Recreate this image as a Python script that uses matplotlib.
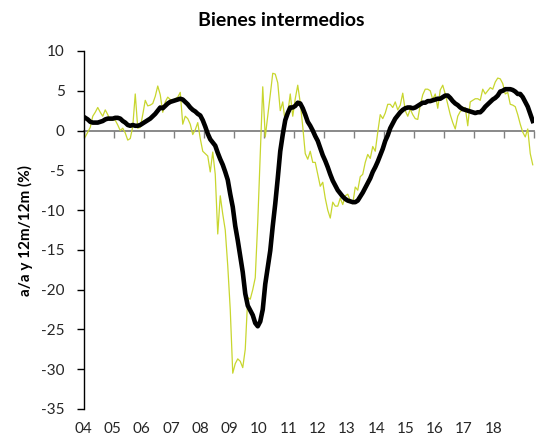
import matplotlib
matplotlib.use("Agg")
import matplotlib.pyplot as plt
import matplotlib.transforms as mtransforms
import numpy as np

plt.rcParams['font.family'] = ['Lato', 'DejaVu Sans']

# monthly values, Jan 2004 .. Dec 2018
yoy = [
    -0.8, -0.2, 0.4, 1.8, 2.3, 2.9, 2.3, 1.8, 2.6, 2.0, 1.3, 1.4,          # 2004
    1.3, 0.7, 0.0, 0.3, -0.3, -1.2, -1.0, 0.5, 4.6, 0.3, 0.4, 2.0,         # 2005
    3.8, 3.1, 3.2, 3.4, 4.3, 5.6, 4.5, 2.3, 3.6, 4.2, 3.9, 3.8,            # 2006
    4.0, 4.2, 4.8, 0.8, 1.8, 1.5, 0.8, -0.5, 0.1, 1.0, -1.0, -2.6,         # 2007
    -2.9, -3.2, -5.2, -2.7, -5.5, -13.0, -8.2, -10.5, -12.5, -17.0, -22.5, -30.5,  # 2008
    -29.3, -28.7, -29.0, -29.8, -27.5, -21.0, -21.2, -20.0, -18.5, -11.5, -3.0, 5.5,  # 2009
    -0.8, 1.8, 4.5, 7.2, 7.1, 6.0, 2.5, 3.6, 1.0, 2.2, 4.6, 1.8,           # 2010
    4.0, 5.7, 3.5, 0.5, -2.9, -3.6, -2.6, -4.0, -4.0, -5.5, -7.0, -6.5,    # 2011
    -8.5, -10.0, -11.0, -9.0, -9.5, -9.5, -8.5, -9.3, -8.2, -8.0, -8.8, -9.2,  # 2012
    -7.1, -7.5, -5.8, -5.5, -4.0, -3.0, -3.5, -2.0, -2.6, -0.2, 2.0, 1.5,  # 2013
    2.2, 3.3, 3.3, 2.9, 3.6, 2.6, 3.2, 4.7, 2.5, 1.8, 2.7, 2.0,            # 2014
    1.5, 1.4, 3.2, 4.5, 5.2, 5.2, 5.0, 3.9, 4.6, 2.8, 5.1, 5.7,            # 2015
    4.6, 3.3, 2.0, 1.0, 0.2, 1.8, 2.4, 2.6, 2.9, 0.6, 3.6, 3.8,            # 2016
    4.0, 4.0, 3.8, 5.2, 4.6, 5.0, 5.4, 5.2, 6.1, 6.6, 6.5, 5.9,            # 2017
    4.6, 4.8, 3.3, 3.2, 3.0, 2.0, 0.8, -0.2, -0.8, 0.2, -2.9, -4.3,        # 2018
]

ma12 = [
    1.6, 1.4, 1.1, 1.0, 1.0, 1.0, 1.1, 1.2, 1.4, 1.5, 1.5, 1.5,
    1.6, 1.6, 1.5, 1.2, 1.0, 0.7, 0.6, 0.7, 0.6, 0.6, 0.7, 0.9,
    1.1, 1.3, 1.5, 1.8, 2.1, 2.5, 2.9, 2.8, 3.1, 3.4, 3.6, 3.7,
    3.8, 3.9, 4.0, 3.9, 3.6, 3.3, 2.9, 2.6, 2.4, 2.1, 1.9, 1.3,
    0.5, -0.4, -1.1, -1.5, -1.9, -2.8, -3.6, -4.3, -5.2, -6.2, -8.0, -9.6,
    -12.0, -13.8, -15.8, -17.8, -20.5, -22.0, -22.6, -23.2, -24.2, -24.6, -24.0, -22.5,
    -19.3, -17.2, -15.1, -12.0, -9.2, -6.0, -2.6, -0.5, 1.3, 2.2, 2.9, 2.9,
    3.1, 3.5, 3.4, 2.8, 2.0, 1.1, 0.6, 0.0, -0.7, -1.3, -2.2, -3.1,
    -3.8, -4.6, -5.5, -6.3, -6.9, -7.5, -7.9, -8.3, -8.6, -8.8, -8.9, -9.0,
    -9.0, -8.8, -8.3, -7.8, -7.2, -6.6, -6.0, -5.2, -4.6, -3.9, -3.1, -2.3,
    -1.3, -0.6, 0.3, 0.9, 1.5, 1.9, 2.3, 2.6, 2.8, 2.9, 2.9, 2.8,
    2.9, 3.1, 3.3, 3.5, 3.5, 3.7, 3.7, 3.8, 3.9, 4.0, 4.0, 4.2,
    4.4, 4.4, 4.1, 3.7, 3.4, 3.2, 2.9, 2.7, 2.6, 2.5, 2.4, 2.3,
    2.2, 2.3, 2.3, 2.6, 3.0, 3.3, 3.6, 3.9, 4.1, 4.4, 4.9, 5.0,
    5.2, 5.2, 5.2, 5.1, 4.9, 4.6, 4.6, 4.2, 3.6, 3.0, 2.1, 1.2,
]

year_labels = ['04', '05', '06', '07', '08', '09', '10', '11', '12',
               '13', '14', '15', '16', '17', '18']
y_ticks = [10, 5, 0, -5, -10, -15, -20, -25, -30, -35]

months = np.arange(len(yoy))

fig = plt.figure(figsize=(5.36, 4.37), dpi=100)
ax = fig.add_axes([84 / 536, 28 / 437, 450 / 536, 358 / 437])

ax.plot(months, yoy, color='#c8d62e', lw=0.9, zorder=2)
ax.plot(months, ma12, color='black', lw=3.3, zorder=3, solid_joinstyle='round')

ax.set_xlim(-0.5, len(yoy) - 0.5)
ax.set_ylim(-35, 10)
ax.set_yticks(y_ticks)
ax.set_yticklabels([str(v) for v in y_ticks])

for s in ['top', 'right']:
    ax.spines[s].set_visible(False)
ax.spines['left'].set_linewidth(1.0)
ax.spines['bottom'].set_position(('data', 0))
ax.spines['bottom'].set_color('#808080')
ax.spines['bottom'].set_linewidth(1.3)
ax.spines['bottom'].set_zorder(1)

ax.set_xticks(np.arange(0, len(yoy) + 1, 12) - 0.5)
ax.tick_params(axis='x', direction='out', length=5, width=1, color='#808080',
               labelbottom=False)
ax.tick_params(axis='y', direction='out', length=5, width=1, labelsize=11,
               pad=9, labelcolor='#262626')

# year labels below the plot area
trans = mtransforms.blended_transform_factory(ax.transData, fig.transFigure)
for k, lab in enumerate(year_labels):
    ax.text(-0.8 + 11.72 * k, 8 / 437, lab, transform=trans, ha='center',
            va='center', fontsize=11, color='#262626', clip_on=False)

ax.set_ylabel('a/a y 12m/12m (%)', fontsize=11, fontweight='bold', labelpad=6)
fig.text(281 / 536, 416 / 437, 'Bienes intermedios', ha='center', va='center',
         fontsize=14, fontweight='bold')

fig.savefig('out.png', dpi=100)
